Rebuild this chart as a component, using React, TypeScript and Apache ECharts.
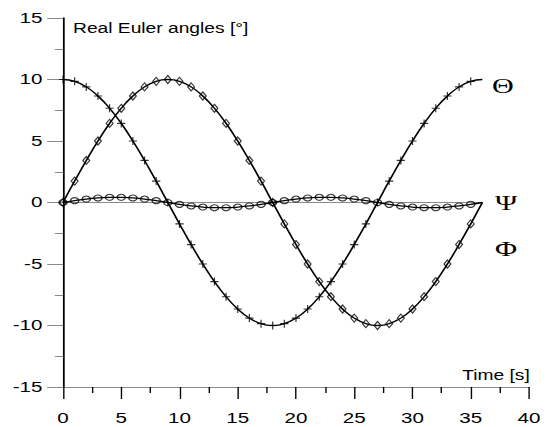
import React, { useEffect, useRef } from "react";
import * as echarts from "echarts";

// Time [s]
const time = [0, 1, 2, 3, 4, 5, 6, 7, 8, 9, 10, 11, 12, 13, 14, 15, 16, 17, 18, 19, 20, 21, 22, 23, 24, 25, 26, 27, 28, 29, 30, 31, 32, 33, 34, 35, 36];
// Theta [deg]
const theta = [10, 9.85, 9.4, 8.66, 7.66, 6.43, 5, 3.42, 1.74, 0, -1.74, -3.42, -5, -6.43, -7.66, -8.66, -9.4, -9.85, -10, -9.85, -9.4, -8.66, -7.66, -6.43, -5, -3.42, -1.74, 0, 1.74, 3.42, 5, 6.43, 7.66, 8.66, 9.4, 9.85, 10];
// Phi [deg]
const phi = [0, 1.74, 3.42, 5, 6.43, 7.66, 8.66, 9.4, 9.85, 10, 9.85, 9.4, 8.66, 7.66, 6.43, 5, 3.42, 1.74, 0, -1.74, -3.42, -5, -6.43, -7.66, -8.66, -9.4, -9.85, -10, -9.85, -9.4, -8.66, -7.66, -6.43, -5, -3.42, -1.74, 0];
// Psi [deg]
const psi = [0, 0.15, 0.28, 0.37, 0.42, 0.42, 0.37, 0.28, 0.15, 0, -0.15, -0.28, -0.37, -0.42, -0.42, -0.37, -0.28, -0.15, 0, 0.15, 0.28, 0.37, 0.42, 0.42, 0.37, 0.28, 0.15, 0, -0.15, -0.28, -0.37, -0.42, -0.42, -0.37, -0.28, -0.15, 0];
// marker count (markers at 0..35 s)
const markerCount = 36;
const zeroLine = [[0, 0], [36, 0]];

const yTitle = "Real Euler angles [°]";
const xTitle = "Time [s]";
const seriesLabels = ["Θ", "Ψ", "Φ"];

const W = 400;
const H = 427;
const STRETCH = 549 / 400;

export default function App() {
  const ref = useRef<HTMLDivElement>(null);
  useEffect(() => {
    document.body.style.margin = "0";
    document.body.style.overflow = "hidden";
    const chart = echarts.init(ref.current!, null, { renderer: "svg" });
    const pts = (vals: number[], n?: number) =>
      time.slice(0, n ?? time.length).map((t, i) => [t, vals[i]]);
    const lineSeries = (name: string, vals: number[]) => ({
      name,
      type: "line",
      data: pts(vals),
      smooth: true,
      symbol: "none",
      lineStyle: { color: "#000", width: 1.3 },
      z: 3,
    });
    const markerSeries = (name: string, vals: number[], symbol: string, size: any) => ({
      name: name + "m",
      type: "scatter",
      data: pts(vals, markerCount),
      symbol,
      symbolSize: size,
      itemStyle: { color: "transparent", borderColor: "#000", borderWidth: 1 },
      z: 4,
    });
    const font = "Liberation Sans, Arial, sans-serif";
    chart.setOption({
      animation: false,
      grid: { left: 45.9, right: 14.6, top: 18, bottom: 40 },
      xAxis: {
        type: "value",
        min: 0,
        max: 40,
        interval: 5,
        axisLine: { onZero: false, lineStyle: { color: "#8a8a8a", width: 1 } },
        axisTick: { length: 12, lineStyle: { color: "#000", width: 1 } },
        minorTick: { show: true, splitNumber: 2, length: 6, lineStyle: { color: "#000", width: 1 } },
        splitLine: { show: false },
        axisLabel: { color: "#000", fontSize: 15, fontFamily: font, margin: 23 },
      },
      yAxis: {
        type: "value",
        min: -15,
        max: 15,
        interval: 5,
        axisLine: { onZero: false, lineStyle: { color: "#000", width: 1.3 } },
        axisTick: { length: 11.5, lineStyle: { color: "#8a8a8a", width: 1 } },
        minorTick: { show: true, splitNumber: 2, length: 6, lineStyle: { color: "#8a8a8a", width: 1 } },
        splitLine: { show: false },
        axisLabel: { color: "#000", fontSize: 15, fontFamily: font, margin: 15 },
      },
      series: [
        {
          name: "zero",
          type: "line",
          data: zeroLine,
          symbol: "none",
          lineStyle: { color: "#8a8a8a", width: 1 },
          z: 2,
        },
        lineSeries("theta", theta),
        lineSeries("phi", phi),
        lineSeries("psi", psi),
        markerSeries("theta", theta, "path://M5,0L5,10M0,5L10,5", [6, 8]),
        markerSeries("phi", phi, "diamond", [5, 8]),
        markerSeries("psi", psi, "circle", 6),
      ],
      graphic: [
        {
          type: "text",
          x: 53.2,
          y: 28,
          style: { text: yTitle, font: `14px ${font}`, fill: "#000", verticalAlign: "middle" },
        },
        {
          type: "text",
          x: 386,
          y: 375,
          style: { text: xTitle, font: `14px ${font}`, fill: "#000", align: "right", verticalAlign: "middle" },
        },
        {
          type: "text",
          x: 358.5,
          y: 85.5,
          style: { text: seriesLabels[0], font: "22px Liberation Serif, Times New Roman, serif", fill: "#000", verticalAlign: "middle" },
        },
        {
          type: "text",
          x: 360.7,
          y: 203,
          style: { text: seriesLabels[1], font: "22px Liberation Serif, Times New Roman, serif", fill: "#000", verticalAlign: "middle" },
        },
        {
          type: "text",
          x: 360.7,
          y: 248.5,
          style: { text: seriesLabels[2], font: "22px Liberation Serif, Times New Roman, serif", fill: "#000", verticalAlign: "middle" },
        },
      ],
    });
    return () => chart.dispose();
  }, []);
  return (
    <div
      ref={ref}
      style={{
        width: W,
        height: H,
        transform: `scaleX(${STRETCH})`,
        transformOrigin: "0 0",
      }}
    />
  );
}
